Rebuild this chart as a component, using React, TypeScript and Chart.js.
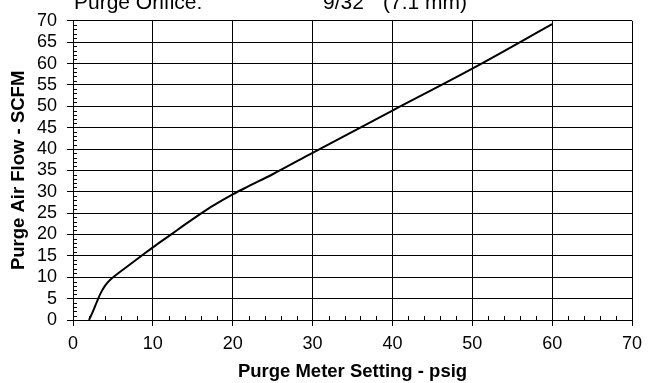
import React, { useEffect, useRef } from "react";
import { Chart, registerables } from "chart.js";

Chart.register(...registerables);

const pressurePsig = [2.0, 2.5, 3.0, 3.5, 4.0, 4.6, 5.5, 7.0, 8.5, 10, 12.35, 14, 16.1, 17.5, 20, 22, 25, 30, 40, 50, 60];
const airFlowScfm = [0, 2.0, 4.3, 6.4, 8.0, 9.3, 10.7, 12.8, 14.9, 17.0, 20.1, 22.3, 25.0, 26.7, 29.4, 31.3, 34.1, 39.1, 49.0, 58.8, 69.2];

const headerLeft = "Purge Orifice:";
const headerRight = "9/32\"  (7.1 mm)";
const xTitle = "Purge Meter Setting - psig";
const yTitle = "Purge Air Flow - SCFM";

const FONT = "'Liberation Sans', Arial, sans-serif";

const minorTicks = {
  id: "minorTicks",
  afterDraw(chart: any) {
    const { ctx, chartArea, scales } = chart;
    const x = scales.x;
    const y = scales.y;
    ctx.save();
    ctx.strokeStyle = "#000";
    ctx.lineWidth = 1;
    ctx.beginPath();
    for (let v = 2; v < 70; v += 2) {
      if (v % 10 === 0) continue;
      const px = Math.round(x.getPixelForValue(v)) + 0.5;
      ctx.moveTo(px, chartArea.bottom);
      ctx.lineTo(px, chartArea.bottom - 4);
    }
    for (let v = 1; v < 70; v += 1) {
      if (v % 5 === 0) continue;
      const py = Math.round(y.getPixelForValue(v)) + 0.5;
      ctx.moveTo(chartArea.left, py);
      ctx.lineTo(chartArea.left + 4, py);
    }
    ctx.stroke();
    // header text (partially clipped at the top, like the reference)
    ctx.fillStyle = "#000";
    ctx.font = `21px ${FONT}`;
    ctx.textBaseline = "alphabetic";
    ctx.textAlign = "left";
    ctx.fillText(headerLeft, 74, 9);
    ctx.fillText(headerRight, 323, 9);
    ctx.restore();
  },
};

export default function App() {
  const ref = useRef<HTMLCanvasElement | null>(null);
  useEffect(() => {
    if (!ref.current) return;
    const points = pressurePsig.map((p, i) => ({ x: p, y: airFlowScfm[i] }));
    const chart = new Chart(ref.current, {
      type: "scatter",
      data: {
        datasets: [
          {
            data: points,
            showLine: true,
            borderColor: "#000",
            borderWidth: 2,
            pointRadius: 0,
            cubicInterpolationMode: "monotone",
          } as any,
        ],
      },
      options: {
        responsive: false,
        animation: false,
        devicePixelRatio: 1,
        layout: { padding: { left: 0, right: 18, top: 16, bottom: 0 } },
        plugins: { legend: { display: false }, tooltip: { enabled: false } },
        scales: {
          x: {
            type: "linear",
            min: 0,
            max: 70,
            ticks: {
              stepSize: 10,
              autoSkip: false,
              color: "#000",
              padding: 7,
              maxRotation: 0,
              font: { family: FONT, size: 18 },
            },
            grid: { color: "#000", lineWidth: 1, tickLength: 6, tickColor: "#000" },
            border: { display: true, color: "#000", width: 1 },
            title: {
              display: true,
              text: xTitle,
              color: "#000",
              font: { family: FONT, size: 18.5, weight: "bold" },
              padding: { top: 0, bottom: 0 },
            },
            afterFit: (s: any) => {
              s.height = 63;
            },
          },
          y: {
            type: "linear",
            min: 0,
            max: 70,
            ticks: {
              stepSize: 5,
              autoSkip: false,
              color: "#000",
              padding: 10,
              font: { family: FONT, size: 18 },
            },
            grid: { color: "#000", lineWidth: 1, tickLength: 6, tickColor: "#000" },
            border: { display: true, color: "#000", width: 1 },
            title: {
              display: true,
              text: yTitle,
              color: "#000",
              font: { family: FONT, size: 18.5, weight: "bold" },
              padding: { top: 8, bottom: 0 },
            },
            afterFit: (s: any) => {
              s.width = 73;
            },
          },
        },
      },
      plugins: [minorTicks],
    });
    return () => chart.destroy();
  }, []);
  return (
    <div style={{ position: "absolute", left: 0, top: 0, width: 650, height: 383, background: "#fff" }}>
      <canvas ref={ref} width={650} height={383} style={{ display: "block" }} />
    </div>
  );
}
